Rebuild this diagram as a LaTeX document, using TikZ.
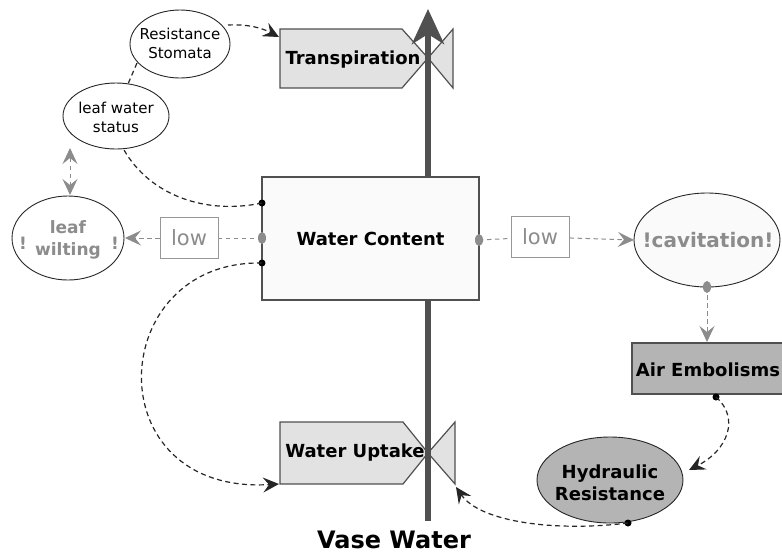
\documentclass[tikz,border=0pt]{standalone}
\usepackage{fontspec}
\setmainfont{DejaVu Sans}
\usetikzlibrary{arrows.meta,shapes.geometric}
\definecolor{pipec}{HTML}{505050}
\definecolor{flowfill}{HTML}{E2E2E2}
\definecolor{darkfill}{HTML}{B4B4B4}
\definecolor{graytxt}{HTML}{8C8C8C}
\definecolor{paleT}{HTML}{FAFAFA}
\begin{document}
\begin{tikzpicture}[x=1pt,y=-1pt,
  flowshape/.style={fill=flowfill, draw=pipec, line width=1.2pt, line join=miter},
  pipe/.style={draw=pipec, line width=6pt},
  blk/.style={draw=black!85, line width=1.2pt, dash pattern=on 5pt off 3.5pt},
  gry/.style={draw=graytxt, line width=1pt, dash pattern=on 4.5pt off 3.5pt},
  tipb/.style={-{Stealth[length=16pt,width=15pt,inset=6pt]}},
  tipg/.style={-{Stealth[length=16pt,width=15pt,inset=6pt,fill=graytxt]}},
  dotb/.style={circle, fill=black, inner sep=0pt, minimum size=7pt},
  dotg/.style={ellipse, fill=graytxt, inner sep=0pt, minimum width=8pt, minimum height=12pt},
  ell/.style={draw=black!85, line width=0.9pt},
  boldlab/.style={font=\fontsize{18}{22}\selectfont\bfseries, align=center, inner sep=0pt},
  smlab/.style={font=\fontsize{15}{19}\selectfont, align=center, inner sep=0pt},
  graylab/.style={font=\fontsize{17}{22}\selectfont\bfseries, text=graytxt, align=center, inner sep=0pt},
  lowbox/.style={draw=graytxt!90, line width=1pt, text=graytxt, minimum width=58pt, minimum height=41pt, inner sep=0pt, font=\fontsize{21}{24}\selectfont, fill=white},
  wcbox/.style={draw=pipec, line width=1.2pt, fill=paleT, minimum width=217pt, minimum height=123pt, inner sep=0pt, font=\fontsize{18}{22}\selectfont\bfseries}
]
\useasboundingbox (0,0) rectangle (782,558);

% flow shapes (Transpiration, Water Uptake)
\draw[flowshape] (280,29) -- (402,29) -- (428,58) -- (402,88) -- (280,88) -- cycle;
\draw[flowshape] (428,58) -- (453,29) -- (453,88) -- cycle;
\draw[flowshape] (280,422) -- (403,422) -- (428,453) -- (403,484) -- (280,484) -- cycle;
\draw[flowshape] (428,453) -- (455,422) -- (455,484) -- cycle;

% pipe
\draw[pipe, -{Stealth[length=35pt,width=32pt,inset=10pt]}] (428,521) -- (428,9);

% stock
\node[wcbox] (wc) at (370.5,238.5) {Water Content};

% flow labels
\node[boldlab] (tr) at (353,60) {Transpiration};
\node[boldlab] (wu) at (355,453) {Water Uptake};
\node[font=\fontsize{24}{28}\selectfont\bfseries, inner sep=0pt] (vw) at (394,540) {Vase Water};

% ellipses
\draw[ell, fill=white] (180,44) ellipse [x radius=50, y radius=34];
\node[smlab] (rs) at (180,43) {Resistance\\Stomata};
\draw[ell, fill=white] (116,116) ellipse [x radius=53, y radius=33];
\node[smlab] (lws) at (116,117) {leaf water\\status};
\draw[ell, fill=white] (68,238) ellipse [x radius=56, y radius=42];
\node[graylab] (lw) at (68,240) {leaf\\wilting};
\node[graylab] (lwa) at (23,243) {!};
\node[graylab] (lwb) at (115,243) {!};
\draw[ell, fill=paleT] (707,240) ellipse [x radius=73, y radius=47];
\node[graylab, font=\fontsize{20}{24}\selectfont\bfseries] (cav) at (708,240) {!cavitation!};
\draw[ell, fill=darkfill] (610,480) ellipse [x radius=73, y radius=43];
\node[boldlab] (hr) at (610,483) {Hydraulic\\Resistance};

% Air Embolisms
\node[draw=pipec, line width=1.2pt, fill=darkfill, minimum width=152pt, minimum height=51pt, inner sep=0pt] (aeb) at (708,368.5) {};
\node[boldlab] (ae) at (708,370) {Air Embolisms};

% low boxes
\node[lowbox] (lowL) at (189,238) {low};
\node[lowbox] (lowR) at (540,237) {low};

% anchor coordinates
\coordinate (rsE) at (228,25);
\coordinate (trW) at (279,37);
\coordinate (rsS) at (137,63);
\coordinate (lwsN) at (128,84);
\coordinate (lwsS) at (124,150);
\coordinate (lwsSW) at (70,148);
\coordinate (lwN) at (70,195);
\coordinate (lwE) at (125,238);
\coordinate (cavW) at (634,240);
\coordinate (aeN) at (707,342);
\coordinate (hrNE) at (689,470);
\coordinate (wuW) at (279,484);
\coordinate (wuV) at (456,487);

% dots
\node[dotb] (d1) at (262,203) {};
\node[dotb] (d2) at (262,263) {};
\coordinate (d3) at (262,238);
\coordinate (d4) at (479,240);
\coordinate (d5) at (707,287);
\node[dotb] (d6) at (716,397) {};
\node[dotb] (d7) at (628,523) {};

% black connectors
\draw[blk, tipb] (rsE) .. controls (248,24) and (262,28) .. (trW);
\draw[blk] (rsS) -- (lwsN);
\draw[blk] (d1.center) .. controls (205,215) and (150,195) .. (lwsS);
\draw[blk, tipb] (d2.center) .. controls (105,260) and (95,495) .. (wuW);
\draw[blk, tipb] (d6.center) .. controls (740,418) and (728,450) .. (hrNE);
\draw[blk, tipb] (d7.center) .. controls (555,532) and (480,522) .. (wuV);

% gray connectors
\draw[gry] (d3) -- (lowL);
\draw[gry, tipg] (lowL) -- (lwE);
\draw[gry] (d4) -- (lowR);
\draw[gry, tipg] (lowR) -- (cavW);
\draw[gry, tipg] (d5) -- (aeN);
\draw[gry, {Stealth[length=16pt,width=15pt,inset=6pt,fill=graytxt]}-{Stealth[length=16pt,width=15pt,inset=6pt,fill=graytxt]}] (lwsSW) -- (lwN);
\node[dotg] (g3) at (d3) {};
\node[dotg] (g4) at (d4) {};
\node[dotg] (g5) at (d5) {};
\end{tikzpicture}
\end{document}
